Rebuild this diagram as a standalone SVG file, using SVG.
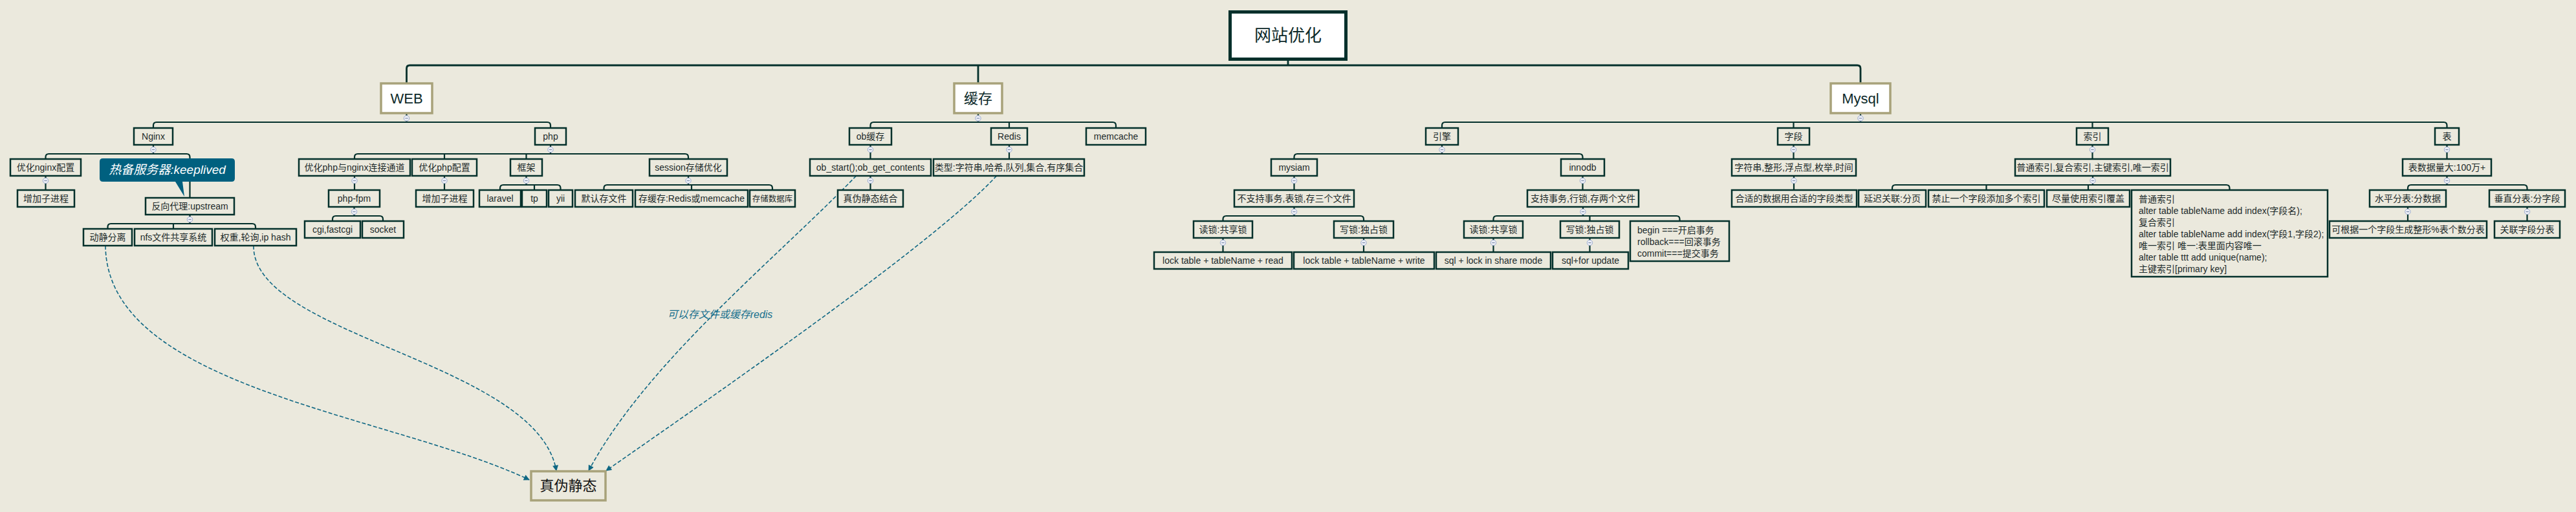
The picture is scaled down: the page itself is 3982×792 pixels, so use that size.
<svg xmlns="http://www.w3.org/2000/svg" width="3982" height="792" viewBox="0 0 3982 792">
<defs>
<style>
.bg{fill:#ebe9dd}
.n rect{fill:#ebe9dd;stroke:#03302b;stroke-width:2.5}
text{font-family:"Liberation Sans","Noto Sans CJK SC",sans-serif;font-size:14px;fill:#1d2b2b;text-anchor:middle}
.h rect{fill:#ffffff;stroke:#a8a27a;stroke-width:3.5}
.h text{font-size:22px;fill:#0d2a2a}
.root rect{fill:#ffffff;stroke:#03302b;stroke-width:5}
.root text{font-size:26px;fill:#0d2a2a}
.ml text{text-anchor:start}
.c path{fill:none;stroke:#03302b;stroke-width:2.2}
.c .main{stroke-width:2.8}
.d path{fill:none;stroke:#0f6783;stroke-width:1.6;stroke-dasharray:6 3}
.lbl{font-size:16px;font-style:italic;fill:#17708e}
.tgt rect{fill:#ebe9dd;stroke:#a8a27a;stroke-width:3.5}
.tgt text{font-size:22px;fill:#111}
</style>
<marker id="arr" viewBox="0 0 10 10" refX="9" refY="5" markerWidth="10" markerHeight="9" markerUnits="userSpaceOnUse" orient="auto"><path d="M0,0 L10,5 L0,10 z" fill="#0f6783"/></marker>
<symbol id="cm" viewBox="-5 -5 10 10" overflow="visible"><circle cx="0" cy="0" r="4.2" fill="#eef0f7" stroke="#9cabd0" stroke-width="1"/><line x1="-2.2" y1="0" x2="2.2" y2="0" stroke="#8090b0" stroke-width="1.2"/></symbol>
</defs>
<rect class="bg" x="0" y="0" width="3982" height="792"/>

<g id="connectors" class="c">
<path class="main" d="M1991,94 V101"/>
<path class="main" d="M628.5,129 V106 Q628.5,101 633.5,101 H2871 Q2876,101 2876,106 V129"/>
<path class="main" d="M1512,101 V129"/>
<path d="M628.5,176 V189"/>
<path d="M237,198 V194 Q237,189 242,189 H846 Q851,189 851,194 V198"/>
<path d="M1512,176 V189"/>
<path d="M1345.5,198 V194 Q1345.5,189 1350.5,189 H1720 Q1725,189 1725,194 V198"/>
<path d="M1560,189 V198"/>
<path d="M2876,176 V189"/>
<path d="M2229,198 V194 Q2229,189 2234,189 H3777.5 Q3782.5,189 3782.5,194 V198"/>
<path d="M2772.5,189 V198"/>
<path d="M3234.5,189 V198"/>
<path d="M237,224 V238"/>
<path d="M70.5,246 V243 Q70.5,238 75.5,238 H288.5 Q293.5,238 293.5,243 V306"/>
<path d="M851,224 V238"/>
<path d="M548,246 V243 Q548,238 553,238 H1059 Q1064,238 1064,243 V246"/>
<path d="M687,238 V246"/>
<path d="M813.5,238 V246"/>
<path d="M1345.5,224 V246"/>
<path d="M1560,224 V246"/>
<path d="M2229,224 V238"/>
<path d="M2000.5,246 V243 Q2000.5,238 2005.5,238 H2441.5 Q2446.5,238 2446.5,243 V246"/>
<path d="M2772.5,224 V246"/>
<path d="M3234.5,224 V246"/>
<path d="M3782.5,224 V246"/>
<path d="M70.5,272 V294"/>
<path d="M548,272 V294"/>
<path d="M687,272 V294"/>
<path d="M813.5,272 V286"/>
<path d="M773,294 V291 Q773,286 778,286 H861.5 Q866.5,286 866.5,291 V294"/>
<path d="M826,286 V294"/>
<path d="M1064,272 V286"/>
<path d="M933.5,294 V291 Q933.5,286 938.5,286 H1189 Q1194,286 1194,291 V294"/>
<path d="M1069,286 V294"/>
<path d="M1345.5,272 V294"/>
<path d="M2000.5,272 V294"/>
<path d="M2446.5,272 V294"/>
<path d="M2773,272 V294"/>
<path d="M3235,272 V286"/>
<path d="M2925,294 V291 Q2925,286 2930,286 H3441.5 Q3446.5,286 3446.5,291 V294"/>
<path d="M3070.5,286 V294"/>
<path d="M3228,286 V294"/>
<path d="M3782.5,272 V286"/>
<path d="M3722,294 V291 Q3722,286 3727,286 H3901.5 Q3906.5,286 3906.5,291 V294"/>
<path d="M547.5,320 V334"/>
<path d="M514,342 V339 Q514,334 519,334 H587 Q592,334 592,339 V342"/>
<path d="M2000.5,320 V334"/>
<path d="M1890.5,342 V339 Q1890.5,334 1895.5,334 H2103 Q2108,334 2108,339 V342"/>
<path d="M2447,320 V334"/>
<path d="M2308.5,342 V339 Q2308.5,334 2313.5,334 H2591.5 Q2596.5,334 2596.5,339 V342"/>
<path d="M2457.5,334 V342"/>
<path d="M3722,320 V342"/>
<path d="M3906.5,320 V342"/>
<path d="M293.5,332 V346"/>
<path d="M166.5,354 V351 Q166.5,346 171.5,346 H390 Q395,346 395,351 V354"/>
<path d="M268,346 V354"/>
<path d="M1890.5,368 V390"/>
<path d="M2108,368 V390"/>
<path d="M2308.5,368 V390"/>
<path d="M2457.5,368 V390"/>
</g>

<g id="links" class="d">
<path d="M163,380 C165,600 600,640 818,742" marker-end="url(#arr)"/>
<path d="M392,380 C390,520 830,560 860,728" marker-end="url(#arr)"/>
<path d="M1323.5,272 C1200,400 1000,560 910,728" marker-end="url(#arr)"/>
<path d="M1540.5,272 C1450,370 1150,580 937,728" marker-end="url(#arr)"/>
<text class="lbl" x="1113" y="492">可以存文件或缓存redis</text>
</g>

<g id="root" class="root"><rect x="1901.5" y="18.5" width="179" height="73"/><text x="1991" y="64">网站优化</text></g>

<g id="web" class="h"><rect x="589" y="129" width="79" height="46"/><text x="628.5" y="160">WEB</text></g>
<g id="cache" class="h"><rect x="1475" y="129" width="74" height="46"/><text x="1512" y="160">缓存</text></g>
<g id="mysql" class="h"><rect x="2830" y="129" width="92" height="46"/><text x="2876" y="160">Mysql</text></g>

<g id="nginx" class="n"><rect x="207" y="198" width="60" height="26"/><text x="237" y="216">Nginx</text></g>
<g id="php" class="n"><rect x="827" y="198" width="48" height="26"/><text x="851" y="216">php</text></g>
<g id="obcache" class="n"><rect x="1313" y="198" width="65" height="26"/><text x="1345.5" y="216">ob缓存</text></g>
<g id="redis" class="n"><rect x="1532" y="198" width="56" height="26"/><text x="1560" y="216">Redis</text></g>
<g id="memcache" class="n"><rect x="1679" y="198" width="92" height="26"/><text x="1725" y="216">memcache</text></g>
<g id="engine" class="n"><rect x="2204" y="198" width="50" height="26"/><text x="2229" y="216">引擎</text></g>
<g id="field" class="n"><rect x="2748" y="198" width="49" height="26"/><text x="2772.5" y="216">字段</text></g>
<g id="index" class="n"><rect x="3210" y="198" width="49" height="26"/><text x="3234.5" y="216">索引</text></g>
<g id="table" class="n"><rect x="3764" y="198" width="37" height="26"/><text x="3782.5" y="216">表</text></g>

<g id="optnginx" class="n"><rect x="16" y="246" width="109" height="26"/><text x="70.5" y="264">优化nginx配置</text></g>
<g id="phpconn" class="n"><rect x="462" y="246" width="172" height="26"/><text x="548" y="264">优化php与nginx连接通道</text></g>
<g id="optphp" class="n"><rect x="637" y="246" width="100" height="26"/><text x="687" y="264">优化php配置</text></g>
<g id="frame" class="n"><rect x="789" y="246" width="49" height="26"/><text x="813.5" y="264">框架</text></g>
<g id="session" class="n"><rect x="1004" y="246" width="120" height="26"/><text x="1064" y="264">session存储优化</text></g>
<g id="obstart" class="n"><rect x="1252" y="246" width="187" height="26"/><text x="1345.5" y="264">ob_start();ob_get_contents</text></g>
<g id="rtype" class="n"><rect x="1443" y="246" width="233" height="26"/><text x="1559.5" y="264">类型:字符串,哈希,队列,集合,有序集合</text></g>
<g id="myisam" class="n"><rect x="1965" y="246" width="71" height="26"/><text x="2000.5" y="264">mysiam</text></g>
<g id="innodb" class="n"><rect x="2413" y="246" width="67" height="26"/><text x="2446.5" y="264">innodb</text></g>
<g id="ftype" class="n"><rect x="2677" y="246" width="192" height="26"/><text x="2773" y="264">字符串,整形,浮点型,枚举,时间</text></g>
<g id="itype" class="n"><rect x="3115" y="246" width="240" height="26"/><text x="3235" y="264">普通索引,复合索引,主键索引,唯一索引</text></g>
<g id="tbig" class="n"><rect x="3714" y="246" width="137" height="26"/><text x="3782.5" y="264">表数据量大:100万+</text></g>

<g id="sub1" class="n"><rect x="27" y="294" width="88" height="26"/><text x="71" y="312">增加子进程</text></g>
<g id="fpm" class="n"><rect x="508" y="294" width="79" height="26"/><text x="547.5" y="312">php-fpm</text></g>
<g id="sub2" class="n"><rect x="643" y="294" width="89" height="26"/><text x="687.5" y="312">增加子进程</text></g>
<g id="laravel" class="n"><rect x="741" y="294" width="64" height="26"/><text x="773" y="312">laravel</text></g>
<g id="tp" class="n"><rect x="807" y="294" width="38" height="26"/><text x="826" y="312">tp</text></g>
<g id="yii" class="n"><rect x="848" y="294" width="37" height="26"/><text x="866.5" y="312">yii</text></g>
<g id="sfile" class="n"><rect x="889" y="294" width="89" height="26"/><text x="933.5" y="312">默认存文件</text></g>
<g id="scache" class="n"><rect x="982" y="294" width="174" height="26"/><text x="1069" y="312">存缓存:Redis或memcache</text></g>
<g id="sdb" class="n"><rect x="1159" y="294" width="70" height="26"/><text x="1194" y="311.5" style="font-size:12.5px">存储数据库</text></g>
<g id="combine" class="n"><rect x="1295" y="294" width="101" height="26"/><text x="1345.5" y="312">真伪静态结合</text></g>
<g id="notx" class="n"><rect x="1908" y="294" width="185" height="26"/><text x="2000.5" y="312">不支持事务,表锁,存三个文件</text></g>
<g id="tx" class="n"><rect x="2361" y="294" width="172" height="26"/><text x="2447" y="312">支持事务,行锁,存两个文件</text></g>
<g id="fit" class="n"><rect x="2677" y="294" width="193" height="26"/><text x="2773.5" y="312">合适的数据用合适的字段类型</text></g>
<g id="delay" class="n"><rect x="2873" y="294" width="104" height="26"/><text x="2925" y="312">延迟关联:分页</text></g>
<g id="noidx" class="n"><rect x="2981" y="294" width="179" height="26"/><text x="3070.5" y="312">禁止一个字段添加多个索引</text></g>
<g id="cover" class="n"><rect x="3164" y="294" width="128" height="26"/><text x="3228" y="312">尽量使用索引覆盖</text></g>
<g id="sqlidx" class="n ml"><rect x="3295" y="294" width="303" height="134"/>
<text x="3306" y="313">普通索引</text>
<text x="3306" y="331">alter table tableName add index(字段名);</text>
<text x="3306" y="349">复合索引</text>
<text x="3306" y="367">alter table tableName add index(字段1,字段2);</text>
<text x="3306" y="385">唯一索引 唯一:表里面内容唯一</text>
<text x="3306" y="403">alter table ttt add unique(name);</text>
<text x="3306" y="421">主键索引[primary key]</text>
</g>
<g id="hsplit" class="n"><rect x="3663" y="294" width="118" height="26"/><text x="3722" y="312">水平分表:分数据</text></g>
<g id="vsplit" class="n"><rect x="3848" y="294" width="117" height="26"/><text x="3906.5" y="312">垂直分表:分字段</text></g>

<g id="proxy" class="n"><rect x="225" y="306" width="137" height="26"/><text x="293.5" y="324">反向代理:upstream</text></g>
<g id="dyn" class="n"><rect x="129" y="354" width="75" height="26"/><text x="166.5" y="372">动静分离</text></g>
<g id="nfs" class="n"><rect x="208" y="354" width="120" height="26"/><text x="268" y="372">nfs文件共享系统</text></g>
<g id="lb" class="n"><rect x="332" y="354" width="126" height="26"/><text x="395" y="372">权重,轮询,ip hash</text></g>

<g id="cgi" class="n"><rect x="471" y="342" width="86" height="26"/><text x="514" y="360">cgi,fastcgi</text></g>
<g id="socket" class="n"><rect x="560" y="342" width="64" height="26"/><text x="592" y="360">socket</text></g>
<g id="rl1" class="n"><rect x="1845" y="342" width="91" height="26"/><text x="1890.5" y="360">读锁:共享锁</text></g>
<g id="wl1" class="n"><rect x="2062" y="342" width="92" height="26"/><text x="2108" y="360">写锁:独占锁</text></g>
<g id="rl2" class="n"><rect x="2263" y="342" width="91" height="26"/><text x="2308.5" y="360">读锁:共享锁</text></g>
<g id="wl2" class="n"><rect x="2412" y="342" width="91" height="26"/><text x="2457.5" y="360">写锁:独占锁</text></g>
<g id="txcmd" class="n ml"><rect x="2520" y="342" width="153" height="62"/>
<text x="2531" y="361">begin ===开启事务</text>
<text x="2531" y="379">rollback===回滚事务</text>
<text x="2531" y="397">commit===提交事务</text>
</g>
<g id="mod" class="n"><rect x="3601" y="342" width="243" height="26"/><text x="3722.5" y="360">可根据一个字段生成整形%表个数分表</text></g>
<g id="rel" class="n"><rect x="3856" y="342" width="101" height="26"/><text x="3906.5" y="360">关联字段分表</text></g>

<g id="lockr" class="n"><rect x="1784" y="390" width="213" height="26"/><text x="1890.5" y="408">lock table + tableName + read</text></g>
<g id="lockw" class="n"><rect x="2000" y="390" width="217" height="26"/><text x="2108.5" y="408">lock table + tableName + write</text></g>
<g id="sqlr" class="n"><rect x="2220" y="390" width="177" height="26"/><text x="2308.5" y="408">sql + lock in share mode</text></g>
<g id="sqlw" class="n"><rect x="2400" y="390" width="117" height="26"/><text x="2458.5" y="408">sql+for update</text></g>

<g id="callout">
<path d="M159,245 H358 Q363,245 363,250 V276 Q363,281 358,281 H282 L285,304 L271,281 H159 Q154,281 154,276 V250 Q154,245 159,245 Z" fill="#00607f"/>
<text x="258.5" y="269" style="font-size:19px;font-style:italic;fill:#ffffff">热备服务器:keeplived</text>
</g>

<g id="target" class="tgt"><rect x="821" y="729" width="115" height="45"/><text x="878.5" y="759">真伪静态</text></g>

<g id="collapse">
<use href="#cm" x="623.5" y="178" width="10" height="10"/>
<use href="#cm" x="1507" y="178" width="10" height="10"/>
<use href="#cm" x="2871" y="178" width="10" height="10"/>
<use href="#cm" x="232" y="226.5" width="10" height="10"/>
<use href="#cm" x="846" y="226.5" width="10" height="10"/>
<use href="#cm" x="1340.5" y="226.5" width="10" height="10"/>
<use href="#cm" x="1555" y="226.5" width="10" height="10"/>
<use href="#cm" x="2224" y="226.5" width="10" height="10"/>
<use href="#cm" x="2767.5" y="226.5" width="10" height="10"/>
<use href="#cm" x="3229.5" y="226.5" width="10" height="10"/>
<use href="#cm" x="3777.5" y="226.5" width="10" height="10"/>
<use href="#cm" x="65.5" y="274.5" width="10" height="10"/>
<use href="#cm" x="543" y="274.5" width="10" height="10"/>
<use href="#cm" x="682" y="274.5" width="10" height="10"/>
<use href="#cm" x="808.5" y="274.5" width="10" height="10"/>
<use href="#cm" x="1059" y="274.5" width="10" height="10"/>
<use href="#cm" x="1340.5" y="274.5" width="10" height="10"/>
<use href="#cm" x="1995.5" y="274.5" width="10" height="10"/>
<use href="#cm" x="2441.5" y="274.5" width="10" height="10"/>
<use href="#cm" x="2768" y="274.5" width="10" height="10"/>
<use href="#cm" x="3230" y="274.5" width="10" height="10"/>
<use href="#cm" x="3777.5" y="274.5" width="10" height="10"/>
<use href="#cm" x="542.5" y="322.5" width="10" height="10"/>
<use href="#cm" x="1995.5" y="322.5" width="10" height="10"/>
<use href="#cm" x="2442" y="322.5" width="10" height="10"/>
<use href="#cm" x="3717" y="322.5" width="10" height="10"/>
<use href="#cm" x="3901.5" y="322.5" width="10" height="10"/>
<use href="#cm" x="288.5" y="334.5" width="10" height="10"/>
<use href="#cm" x="1885.5" y="370.5" width="10" height="10"/>
<use href="#cm" x="2103" y="370.5" width="10" height="10"/>
<use href="#cm" x="2303.5" y="370.5" width="10" height="10"/>
<use href="#cm" x="2452.5" y="370.5" width="10" height="10"/>
</g>
</svg>
